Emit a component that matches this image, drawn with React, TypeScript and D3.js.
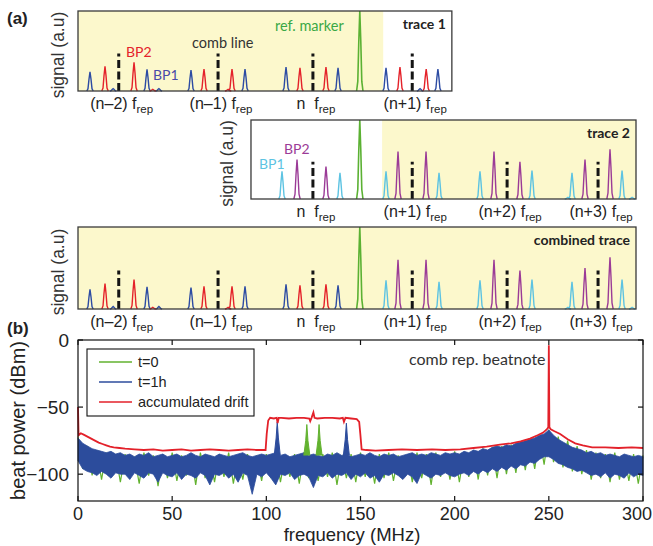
import React from 'react';
import * as d3 from 'd3';

// ---------- panel (a): positions in arbitrary frequency units (0..100 over the full width)
const combPos = [7.3, 25.1, 42.1, 59.9, 76.9, 93.2];
const combNames = ['(n–2)', '(n–1)', 'n\u00a0', '(n+1)', '(n+2)', '(n+3)'];
const markerPos = 50.5;

// trace 1 (BP1 blue, BP2 red), amplitudes as a fraction of the frame height
const bp1Trace1Pos = [2.15, 6.3, 12.37, 14.5, 20.25, 29.93, 37.28, 46.6, 55.2, 61.3, 64.5];
const bp1Trace1Amp = [0.24, 0.03, 0.27, 0.03, 0.26, 0.275, 0.3, 0.29, 0.29, 0.03, 0.275];
const bp2Trace1Pos = [4.84, 10.04, 13.4, 22.58, 26.9, 27.6, 39.78, 44.44, 57.7, 62.4];
const bp2Trace1Amp = [0.31, 0.36, 0.02, 0.275, 0.02, 0.275, 0.29, 0.3, 0.3, 0.275];

// trace 2 (BP1 cyan, BP2 purple)
const bp1Trace2Pos = [36.56, 46.95, 55.2, 64.7, 72.04, 81.36, 87.8, 88.53, 97.5, 99.3];
const bp1Trace2Amp = [0.35, 0.33, 0.35, 0.33, 0.35, 0.36, 0.02, 0.33, 0.36, 0.02];
const bp2Trace2Pos = [39.25, 44.44, 57.35, 62.37, 74.55, 79.2, 90.86, 95.34];
const bp2Trace2Amp = [0.5, 0.41, 0.6, 0.6, 0.6, 0.47, 0.5, 0.63];

// ---------- panel (b): beat spectra
const xTicks = [0, 50, 100, 150, 200, 250, 300];
const yTicks = [0, -50, -100];
const noiseFreq = d3.range(0, 300.1, 2.5);

const blueHi = [
  -73, -77, -79, -81, -82, -83, -84, -83, -85, -84,
  -86, -85, -87, -85, -86, -84, -87, -86, -85, -87,
  -86, -85, -87, -86, -84, -86, -87, -85, -86, -87,
  -85, -86, -87, -86, -85, -84, -86, -87, -86, -85,
  -86, -85, -84, -86, -85, -87, -86, -85, -84, -86,
  -85, -86, -87, -85, -86, -84, -86, -85, -87, -86,
  -85, -86, -84, -86, -87, -85, -86, -85, -87, -86,
  -85, -84, -86, -85, -86, -84, -85, -86, -84, -85,
  -84, -85, -83, -84, -82, -83, -81, -82, -80, -79,
  -80, -78, -79, -77, -76, -75, -74, -73, -71, -70,
  -67, -71, -74, -76, -78, -80, -81, -82, -84, -83,
  -85, -84, -86, -85, -86, -87, -85, -86, -87, -86, -87,
];
const blueLo = [
  -90, -96, -98, -99, -101, -98, -100, -103, -99, -100,
  -100, -104, -99, -101, -103, -99, -100, -106, -99, -101,
  -102, -99, -104, -100, -101, -103, -99, -101, -108, -100,
  -101, -99, -103, -100, -106, -99, -101, -115, -100, -102,
  -99, -103, -108, -100, -101, -99, -104, -101, -100, -102,
  -110, -101, -102, -99, -103, -100, -101, -99, -104, -100,
  -102, -99, -103, -101, -106, -100, -101, -99, -101, -104,
  -100, -102, -107, -99, -101, -103, -100, -101, -99, -101,
  -102, -100, -99, -101, -98, -100, -97, -99, -96, -98,
  -95, -97, -94, -96, -93, -94, -91, -92, -89, -87,
  -87, -89, -92, -93, -95, -96, -98, -97, -99, -101,
  -100, -102, -99, -103, -100, -101, -103, -99, -102, -100, -101,
];
const greenTrace = [
  -72, -96, -79, -101, -82, -104, -84, -99, -85, -106,
  -85, -102, -87, -107, -84, -101, -86, -109, -85, -103,
  -84, -105, -86, -101, -85, -108, -84, -103, -86, -106,
  -85, -102, -84, -107, -86, -104, -85, -101, -86, -105,
  -85, -103, -84, -106, -86, -102, -85, -107, -84, -103,
  -86, -105, -85, -102, -84, -108, -86, -103, -85, -106,
  -84, -102, -86, -107, -85, -103, -84, -105, -86, -101,
  -85, -106, -84, -103, -85, -108, -84, -102, -85, -104,
  -83, -106, -84, -102, -82, -104, -81, -101, -80, -103,
  -79, -100, -78, -99, -76, -97, -75, -96, -72, -93,
  -67, -91, -72, -95, -75, -98, -79, -100, -82, -104,
  -84, -103, -85, -106, -84, -104, -86, -105, -85, -107, -86,
];
const blueSpikeFreq = [105.8, 142.5];
const blueSpikeLevel = [-61, -62];
const greenSpikeFreq = [121.5, 128];
const greenSpikeLevel = [-63, -63];

const redFreq = [
  0, 0.3, 1.5, 3, 5, 7, 9, 11, 13, 15,
  17, 19, 22, 25, 30, 35, 40, 45, 50, 55,
  60, 65, 70, 75, 80, 85, 90, 95, 99.6, 100.2,
  101, 102, 104, 105.5, 106, 106.6, 108, 112, 116, 120,
  122.8, 123.3, 124, 125, 125.6, 127, 131, 135, 139, 140.6,
  141.2, 142, 145, 148, 149.3, 149.9, 150.6, 153, 158, 165,
  172, 180, 188, 195, 203, 210, 217, 224, 230, 235,
  240, 244, 247, 249, 249.7, 250, 250.3, 251, 253, 256,
  260, 264, 268, 273, 280, 287, 294, 300,
];
const redLevel = [
  -50, -71, -69.5, -70.5, -72, -73.5, -75, -76.5, -77.5, -78.5,
  -79.5, -80, -80.5, -81, -81.5, -82, -81.5, -82.5, -82, -81.5,
  -82.5, -82, -81.5, -82, -82.5, -82, -81.5, -82, -82, -70,
  -60, -58, -58.5, -58, -62, -58, -58, -58.5, -58, -58,
  -58.5, -60.5, -58, -54, -58, -58.5, -58, -58, -58.5, -58,
  -61, -58, -58.5, -59, -61, -70, -81.5, -82, -82.5, -82,
  -81.5, -82, -81.5, -82, -81.5, -80.5, -79.5, -78, -77, -75.5,
  -73.5, -71, -69, -66.5, -65, -4, -65, -66.5, -68, -70,
  -74, -77, -78.5, -80, -80, -80.5, -80, -80.5,
];

const legendNames = ['t=0', 't=1h', 'accumulated drift'];
const legendColors = ['#62b22f', '#2c4c9c', '#e3212a'];

// ---------- layout
const xA = d3.scaleLinear().domain([0, 100]).range([78, 636]);
const xB = d3.scaleLinear().domain([0, 300]).range([78, 643]);
const yB = d3.scaleLinear().domain([-120, 0]).range([501, 340]);

const yellow = '#fcf8cc';
const sans = 'Liberation Sans, Arial, sans-serif';
const calib = 'Lato, Liberation Sans, sans-serif';

function peakPath(px: number, y: d3.ScaleLinear<number, number>, amp: number) {
  const offs = [-3.2, -2, -1, 0, 1, 2, 3.2];
  const w = [0, 0.12, 0.62, 1, 0.62, 0.12, 0];
  return d3.line<number>().x((_, i) => px + offs[i]).y((wi) => y(amp * wi))(w) || '';
}

type Peak = { pos: number; amp: number; color: string };

function zipPeaks(pos: number[], amp: number[], color: string): Peak[] {
  return pos.map((p, i) => ({ pos: p, amp: amp[i], color }));
}

const t1 = [
  ...zipPeaks(bp1Trace1Pos, bp1Trace1Amp, '#2d4ca3'),
  ...zipPeaks(bp2Trace1Pos, bp2Trace1Amp, '#e4222a'),
];
const t2 = [
  ...zipPeaks(bp1Trace2Pos, bp1Trace2Amp, '#5dc3e2'),
  ...zipPeaks(bp2Trace2Pos, bp2Trace2Amp, '#9b3b97'),
];

function Trace(props: {
  domain: [number, number];
  top: number;
  bottom: number;
  fill: [number, number];
  peaks: Peak[];
  ylabelX: number;
  title: string;
}) {
  const { domain, top, bottom, fill, peaks, ylabelX, title } = props;
  const y = d3.scaleLinear().domain([0, 1]).range([bottom, top]);
  const x0 = xA(domain[0]);
  const x1 = xA(domain[1]);
  const combs = combPos.map((c, i) => ({ c, name: combNames[i] })).filter((d) => d.c > domain[0] && d.c < domain[1]);
  return (
    <g>
      <rect x={xA(fill[0])} y={top} width={xA(fill[1]) - xA(fill[0])} height={bottom - top} fill={yellow} />
      {peaks.map((p, i) => (
        <path key={i} d={peakPath(xA(p.pos), y, p.amp)} fill="none" stroke={p.color} strokeWidth={1.4} />
      ))}
      <path d={peakPath(xA(markerPos), y, 1)} fill="none" stroke="#5bb133" strokeWidth={1.6} />
      {combs.map((d) => (
        <line key={d.name} x1={xA(d.c)} x2={xA(d.c)} y1={y(0)} y2={y(0.47)} stroke="#151515" strokeWidth={3} strokeDasharray="8 3.5" />
      ))}
      <rect x={x0} y={top} width={x1 - x0} height={bottom - top} fill="none" stroke="#3a3a3a" strokeWidth={1.3} />
      {combs.map((d) => (
        <text key={'l' + d.name} x={xA(d.c) + 3} y={bottom + 18} textAnchor="middle" fontFamily={sans} fontSize={16} fill="#222">
          <tspan>{d.name + ' f'}</tspan>
          <tspan dy={4} fontSize={11.5}>rep</tspan>
        </text>
      ))}
      <text
        transform={`translate(${ylabelX},${(top + bottom) / 2 + 4}) rotate(-90)`}
        textAnchor="middle"
        fontFamily={sans}
        fontSize={17.5}
        fill="#333"
      >
        signal (a.u)
      </text>
      <text x={x1 - 6} y={top + 18} textAnchor="end" fontFamily={calib} fontWeight="bold" fontSize={14} fill="#222">
        {title}
      </text>
    </g>
  );
}

function PanelB() {
  const area = d3
    .area<number>()
    .x((_, i) => xB(noiseFreq[i]))
    .y0((_, i) => yB(blueLo[i]))
    .y1((v) => yB(v));
  const greenLine = d3
    .line<number>()
    .x((_, i) => xB(noiseFreq[i]))
    .y((v) => yB(v));
  const redLine = d3
    .line<number>()
    .x((_, i) => xB(redFreq[i]))
    .y((v) => yB(v));
  const spike = (f: number, lvl: number) =>
    d3
      .line<number[]>()
      .x((d) => xB(d[0]))
      .y((d) => yB(d[1]))([
      [f - 1.6, -86],
      [f - 0.6, lvl - 12],
      [f, lvl],
      [f + 0.6, lvl - 12],
      [f + 1.6, -86],
    ]) || '';
  const left = xB(0);
  const right = xB(300);
  const top = yB(0);
  const bottom = yB(-120);
  return (
    <g>
      <path d={greenLine(greenTrace) || ''} fill="none" stroke="#62b22f" strokeWidth={1.2} />
      <path d={area(blueHi) || ''} fill="#2c4c9c" stroke="#2c4c9c" strokeWidth={0.8} />
      {blueSpikeFreq.map((f, i) => (
        <path key={'b' + i} d={spike(f, blueSpikeLevel[i])} fill="#2c4c9c" stroke="#2c4c9c" strokeWidth={1} />
      ))}
      {greenSpikeFreq.map((f, i) => (
        <path key={'g' + i} d={spike(f, greenSpikeLevel[i])} fill="#62b22f" stroke="#62b22f" strokeWidth={1} />
      ))}
      <path d={redLine(redLevel) || ''} fill="none" stroke="#e3212a" strokeWidth={1.8} />
      <rect x={left} y={top} width={right - left} height={bottom - top} fill="none" stroke="#111" strokeWidth={1.2} />
      {xTicks.map((t) => (
        <g key={'x' + t}>
          <line x1={xB(t)} x2={xB(t)} y1={bottom} y2={bottom - 5} stroke="#111" strokeWidth={1.2} />
          <line x1={xB(t)} x2={xB(t)} y1={top} y2={top + 5} stroke="#111" strokeWidth={1.2} />
          <text
            x={t === 300 ? 652 : xB(t)}
            y={bottom + 19}
            textAnchor={t === 300 ? 'end' : 'middle'}
            fontFamily={sans}
            fontSize={18}
            fill="#222"
          >
            {t}
          </text>
        </g>
      ))}
      {yTicks.map((t) => (
        <g key={'y' + t}>
          <line x1={left} x2={left + 5} y1={yB(t)} y2={yB(t)} stroke="#111" strokeWidth={1.2} />
          <line x1={right} x2={right - 5} y1={yB(t)} y2={yB(t)} stroke="#111" strokeWidth={1.2} />
          <text x={left - 9} y={yB(t) + 7} textAnchor="end" fontFamily={sans} fontSize={19} fill="#222">
            {t < 0 ? '−' + Math.abs(t) : t}
          </text>
        </g>
      ))}
      <text x={352} y={541} textAnchor="middle" fontFamily={sans} fontSize={18.5} fill="#222">
        frequency (MHz)
      </text>
      <text transform={`translate(25,${(top + bottom) / 2}) rotate(-90)`} textAnchor="middle" fontFamily={sans} fontSize={20} fill="#222">
        beat power (dBm)
      </text>
      <text x={409} y={365} fontFamily={calib} fontSize={16} fill="#333">
        comb rep. beatnote
      </text>
      <rect x={87} y={349} width={167} height={67} fill="#fff" stroke="#111" strokeWidth={1.1} />
      {legendNames.map((n, i) => (
        <g key={n}>
          <line x1={99} x2={132} y1={362 + i * 20} y2={362 + i * 20} stroke={legendColors[i]} strokeWidth={1.6} />
          <text x={138} y={367 + i * 20} fontFamily={sans} fontSize={14.5} fill="#222">
            {n}
          </text>
        </g>
      ))}
    </g>
  );
}

export default function App() {
  const combined = [...t1.filter((p) => p.pos < markerPos), ...t2.filter((p) => p.pos > markerPos)];
  return (
    <div style={{ position: 'absolute', left: 0, top: 0 }}>
      <svg width={653} height={546} style={{ display: 'block', background: '#fff' }}>
        <Trace domain={[0, 67]} top={11} bottom={91} fill={[0, 54.7]} peaks={t1} ylabelX={64} title="trace 1" />
        <Trace domain={[31, 100]} top={120} bottom={199} fill={[54.5, 100]} peaks={t2.filter((p) => p.pos > 31)} ylabelX={233} title="trace 2" />
        <Trace domain={[0, 100]} top={227} bottom={309} fill={[0, 100]} peaks={combined} ylabelX={64} title="combined trace" />
        {/* trace 1 annotations */}
        <text x={126} y={57} fontFamily={calib} fontSize={14} fill="#e4222a">BP2</text>
        <text x={153} y={80} fontFamily={calib} fontSize={14} fill="#4a4aa8">BP1</text>
        <text x={192} y={48} fontFamily={calib} fontSize={14.5} fill="#333">comb line</text>
        <text x={275} y={31} fontFamily={calib} fontSize={14.5} fill="#3aa845">ref. marker</text>
        {/* trace 2 annotations */}
        <text x={259} y={169} fontFamily={calib} fontSize={14} fill="#5dc3e2">BP1</text>
        <text x={284} y={154} fontFamily={calib} fontSize={14} fill="#9b3b97">BP2</text>
        <text x={7} y={24} fontFamily={sans} fontWeight="bold" fontSize={17} fill="#222">(a)</text>
        <text x={7} y={334} fontFamily={sans} fontWeight="bold" fontSize={17} fill="#222">(b)</text>
        <PanelB />
      </svg>
    </div>
  );
}
